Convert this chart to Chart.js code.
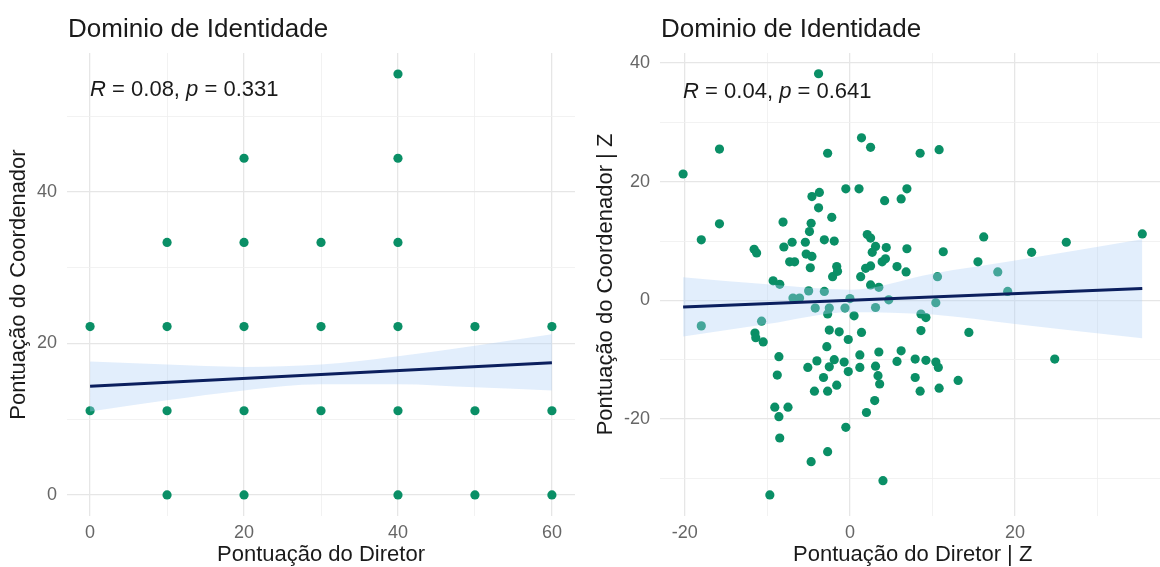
<!DOCTYPE html>
<html>
<head>
<meta charset="utf-8">
<script src="https://cdn.jsdelivr.net/npm/chart.js@4.4.0/dist/chart.umd.min.js"></script>
<style>
html, body { margin: 0; padding: 0; background: #fff; overflow: hidden; }
#wrap { position: relative; width: 1160px; height: 567px; overflow: hidden; }
#c1 { position: absolute; left: 0; top: 0; }
#c2 { position: absolute; left: 580px; top: 0; }
</style>
</head>
<body>
<div id="wrap">
    <canvas id="c1" width="580" height="567"></canvas>
    <canvas id="c2" width="590" height="567"></canvas>
</div>
<script>
// Painel esquerdo: pontuações brutas
const esqX = [0, 0, 10, 10, 10, 10, 20, 20, 20, 20, 20, 30, 30, 30,
    40, 40, 40, 40, 40, 40, 50, 50, 50, 60, 60, 60];
const esqY = [11.11, 22.22, 0, 11.11, 22.22, 33.33, 0, 11.11, 22.22, 33.33, 44.44, 11.11, 22.22, 33.33,
    0, 11.11, 22.22, 33.33, 44.44, 55.56, 0, 11.11, 22.22, 0, 11.11, 22.22];
const esqRetaX = [0, 60];
const esqRetaY = [14.35, 17.46];
const esqBandaX = [0, 10, 20, 30, 40, 50, 60];
const esqBandaInf = [11.0, 12.5, 13.8, 14.6, 14.6, 14.2, 13.8];
const esqBandaSup = [17.6, 17.2, 16.9, 17.2, 18.3, 19.7, 21.2];
const esqTicksX = [0, 10, 20, 30, 40, 50, 60];
const esqRotulosX = [0, 20, 40, 60];
const esqTicksY = [0, 10, 20, 30, 40, 50];
const esqRotulosY = [0, 20, 40];

// Painel direito: escores Z
const dirX = [-3.8, -20.2, -15.8, -2.7, -15.8, -18.0, 1.4, 2.5, 8.5, 10.8,
    -0.5, 1.1, -4.6, -3.7, -3.8, -2.2, -8.1, -4.7, -4.9, -11.6,
    -11.3, -8.0, -7.0, -5.4, -3.1, -1.9, -5.3, -4.6, -7.3, -6.7,
    -4.8, -1.6, -2.1, -1.5, -9.3, -8.5, 4.2, 6.2, 6.9, 2.1,
    2.5, 3.1, 4.4, 6.9, 2.7, 11.3, 3.9, 4.3, 2.5, 1.9,
    5.7, 6.8, 1.3, 10.6, 2.5, 3.5, 16.2, 26.2, 35.4, 22.0,
    15.5, 17.9, 19.1, -6.9, -6.1, -5.0, -3.1, -4.2, -2.5, -0.6,
    -2.7, 0.5, 0.0, 4.7, 3.1, 10.4, -10.7, -18.0, -11.5, -11.4,
    -10.5, -2.5, -1.3, -0.2, -2.8, -8.6, -4.0, -5.1, -1.9, -2.5,
    -0.7, -0.2, -8.8, -3.2, -1.6, -4.3, -2.7, -9.1, -7.5, -8.6,
    -0.5, -8.5, -9.7, -4.7, -2.7, 1.4, 8.6, 8.6, 9.2, 14.4,
    1.2, 1.2, 3.5, 6.2, 5.7, 7.9, 9.2, 10.4, 10.7, 3.1,
    3.4, 3.6, 7.9, 13.1, 8.5, 10.8, 3.0, 2.0, 24.8, 4.0];
const dirY = [38.2, 21.3, 25.5, 24.8, 12.9, 10.2, 27.4, 25.8, 24.8, 25.4,
    18.8, 18.8, 17.5, 18.2, 15.6, 14.0, 13.2, 13.0, 11.6, 8.6,
    8.0, 9.0, 9.8, 9.8, 10.2, 10.0, 7.8, 7.4, 6.5, 6.5,
    5.5, 5.7, 4.0, 4.9, 3.3, 2.7, 16.8, 17.1, 18.8, 11.1,
    10.5, 9.1, 8.9, 8.7, 8.1, 8.2, 6.5, 7.0, 5.8, 5.4,
    5.7, 4.8, 4.0, 4.0, 2.6, 2.2, 10.7, 9.8, 11.2, 8.1,
    6.5, 4.8, 1.5, 0.4, 0.4, 1.6, 1.5, -1.3, -1.3, -1.3,
    -2.3, -2.6, 0.3, 0.1, -1.2, -0.4, -3.5, -4.3, -5.5, -6.3,
    -7.0, -5.0, -5.3, -6.6, -7.8, -9.5, -10.2, -11.3, -10.0, -11.2,
    -10.4, -12.0, -12.6, -13.0, -14.3, -15.3, -15.3, -18.0, -18.0, -19.6,
    -21.4, -23.2, -32.8, -27.2, -25.5, -5.4, -5.1, -2.3, -2.9, -5.4,
    -9.2, -11.3, -8.7, -8.5, -10.3, -9.9, -10.1, -10.4, -11.3, -11.1,
    -12.7, -14.1, -13.0, -13.5, -15.3, -14.8, -16.9, -18.9, -9.9, -30.4];
const dirRetaX = [-20.2, 35.4];
const dirRetaY = [-1.1, 2.0];
const dirBandaX = [-20.2, -10, 0, 10, 20, 35.4];
const dirBandaInf = [-6.1, -4.0, -2.0, -2.4, -4.0, -6.4];
const dirBandaSup = [3.9, 2.7, 1.8, 4.5, 6.7, 10.3];
const dirTicksX = [-20, -10, 0, 10, 20, 30];
const dirRotulosX = [-20, 0, 20];
const dirTicksY = [-30, -20, -10, 0, 10, 20, 30, 40];
const dirRotulosY = [-20, 0, 20, 40];

const FONTE = '"Liberation Sans", Arial, Helvetica, sans-serif';
const VERDE = '#0a8f66';
const AZUL = '#0b1f5e';
const BANDA = 'rgba(175, 207, 248, 0.36)';

// titulo e anotacao R / p desenhados no canvas
const textoPlugin = {
    id: 'texto',
    afterDraw(chart, args, opts) {
        const ctx = chart.ctx;
        const area = chart.chartArea;
        ctx.save();
        ctx.fillStyle = '#1a1a1a';
        ctx.textBaseline = 'middle';
        ctx.textAlign = 'left';
        ctx.font = '26px ' + FONTE;
        ctx.fillText(opts.titulo, area.left + 1, 30);

        let x = chart.scales.x.getPixelForValue(opts.rx);
        const y = chart.scales.y.getPixelForValue(opts.ry);
        const partes = [['R', true], [' = ' + opts.r + ', ', false], ['p', true], [' = ' + opts.p, false]];
        partes.forEach(([t, italico]) => {
            ctx.font = (italico ? 'italic ' : '') + '22px ' + FONTE;
            ctx.fillText(t, x, y);
            x += ctx.measureText(t).width;
        });
        ctx.restore();
    }
};

function pontos(xs, ys) {
    return xs.map((v, i) => ({ x: v, y: ys[i] }));
}

function eixo(cfg) {
    return {
        type: 'linear',
        min: cfg.min,
        max: cfg.max,
        afterBuildTicks: axis => { axis.ticks = cfg.ticks.map(v => ({ value: v })); },
        afterFit: axis => {
            if (cfg.largura) axis.width = cfg.largura;
            if (cfg.altura) axis.height = cfg.altura;
        },
        border: { display: false },
        grid: {
            drawTicks: false,
            color: ctx => cfg.rotulos.includes(ctx.tick.value) ? '#e6e6e6' : '#efefef',
            lineWidth: ctx => cfg.rotulos.includes(ctx.tick.value) ? 1.3 : 0.8
        },
        ticks: {
            autoSkip: false,
            maxRotation: 0,
            padding: cfg.padTick,
            color: '#666666',
            font: { size: 18, family: FONTE },
            callback: v => cfg.rotulos.includes(v) ? String(v) : ''
        },
        title: {
            display: true,
            text: cfg.titulo,
            color: '#1a1a1a',
            font: { size: 22, family: FONTE, lineHeight: 1.1 },
            padding: cfg.padTitulo
        }
    };
}

function criarGrafico(id, d) {
    return new Chart(document.getElementById(id), {
        type: 'scatter',
        data: {
            datasets: [
                {
                    type: 'scatter',
                    data: pontos(d.px, d.py),
                    backgroundColor: VERDE,
                    pointRadius: 4.6,
                    pointBorderWidth: 0,
                    order: 3
                },
                {
                    type: 'line',
                    data: pontos(d.bx, d.binf),
                    borderWidth: 0,
                    pointRadius: 0,
                    fill: false,
                    cubicInterpolationMode: 'monotone',
                    order: 2
                },
                {
                    type: 'line',
                    data: pontos(d.bx, d.bsup),
                    borderWidth: 0,
                    pointRadius: 0,
                    backgroundColor: BANDA,
                    fill: '-1',
                    cubicInterpolationMode: 'monotone',
                    order: 2
                },
                {
                    type: 'line',
                    data: pontos(d.rx, d.ry),
                    borderColor: AZUL,
                    borderWidth: 3,
                    pointRadius: 0,
                    fill: false,
                    order: 1
                }
            ]
        },
        options: {
            responsive: false,
            animation: false,
            layout: { padding: { top: 53, right: d.padDir, left: 0, bottom: 0 } },
            plugins: {
                legend: { display: false },
                tooltip: { enabled: false },
                texto: d.texto
            },
            scales: {
                x: eixo(d.eixoX),
                y: eixo(d.eixoY)
            }
        },
        plugins: [textoPlugin]
    });
}

criarGrafico('c1', {
    px: esqX, py: esqY,
    bx: esqBandaX, binf: esqBandaInf, bsup: esqBandaSup,
    rx: esqRetaX, ry: esqRetaY,
    padDir: 5,
    texto: { titulo: 'Dominio de Identidade', r: '0.08', p: '0.331', rx: 0, ry: 53.4 },
    eixoX: { min: -3, max: 63, ticks: esqTicksX, rotulos: esqRotulosX, altura: 51, padTick: 6,
        titulo: 'Pontuação do Diretor', padTitulo: { top: 0, bottom: 0 } },
    eixoY: { min: -2.78, max: 58.33, ticks: esqTicksY, rotulos: esqRotulosY, largura: 67, padTick: 10,
        titulo: 'Pontuação do Coordenador', padTitulo: { top: 7, bottom: 0 } }
});

criarGrafico('c2', {
    px: dirX, py: dirY,
    bx: dirBandaX, binf: dirBandaInf, bsup: dirBandaSup,
    rx: dirRetaX, ry: dirRetaY,
    padDir: 4,
    texto: { titulo: 'Dominio de Identidade', r: '0.04', p: '0.641', rx: -20.2, ry: 35.2 },
    eixoX: { min: -23.0, max: 38.2, ticks: dirTicksX, rotulos: dirRotulosX, altura: 51, padTick: 6,
        titulo: 'Pontuação do Diretor | Z', padTitulo: { top: 0, bottom: 0 } },
    eixoY: { min: -36.35, max: 41.7, ticks: dirTicksY, rotulos: dirRotulosY, largura: 80, padTick: 10,
        titulo: 'Pontuação do Coordenador | Z', padTitulo: { top: 14, bottom: 0 } }
});
</script>
</body>
</html>
